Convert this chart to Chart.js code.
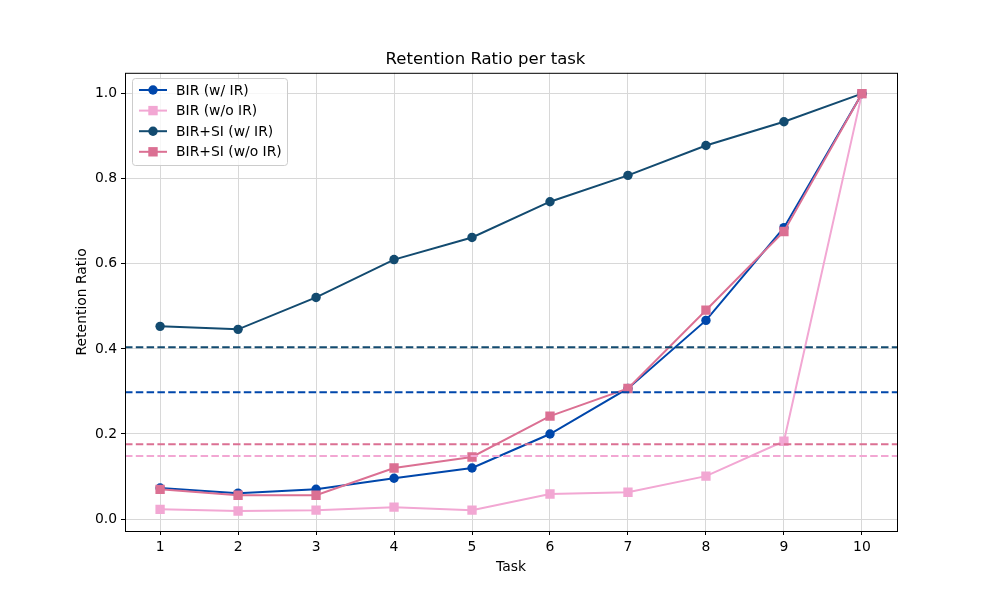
<!DOCTYPE html>
<html>
<head>
<meta charset="utf-8">
<script src="https://cdn.jsdelivr.net/npm/chart.js@4.4.1/dist/chart.umd.min.js"></script>
<style>
  html, body { margin:0; padding:0; background:#fff; }
  #wrap { width:997px; height:598px; position:relative; }
</style>
</head>
<body>
<div id="wrap"><canvas id="chart" width="997" height="598"></canvas></div>
<script>
// ── Data ─────────────────────────────────────────────────────
const tasks = [1,2,3,4,5,6,7,8,9,10];
const birWithIR    = [0.073,0.061,0.070,0.096,0.120,0.200,0.307,0.467,0.685,1.0];
const birNoIR      = [0.023,0.019,0.021,0.028,0.021,0.059,0.063,0.101,0.183,1.0];
const birSiWithIR  = [0.453,0.446,0.521,0.610,0.662,0.746,0.808,0.878,0.934,1.0];
const birSiNoIR    = [0.070,0.056,0.056,0.120,0.146,0.242,0.307,0.491,0.676,1.0];
const seriesNames  = ['BIR (w/ IR)','BIR (w/o IR)','BIR+SI (w/ IR)','BIR+SI (w/o IR)'];
const meanLevels   = [0.298, 0.148, 0.404, 0.176];   // dashed reference lines, same order
const yTicks = [0.0,0.2,0.4,0.6,0.8,1.0];
const xMin = 0.55, xMax = 10.45, yMin = -0.028, yMax = 1.049;

const colors = ['#0047AB','#F2A7D3','#134B70','#DB7093'];
const FONT = 'DejaVu Sans';

const pts = vals => tasks.map((t,i) => ({x:t, y:vals[i]}));
const seriesVals = [birWithIR, birNoIR, birSiWithIR, birSiNoIR];
const styles = ['circle','rect','circle','rect'];

const datasets = seriesVals.map((v,i) => ({
  label: seriesNames[i], data: pts(v),
  borderColor: colors[i], backgroundColor: colors[i],
  borderWidth: 2, pointStyle: styles[i],
  pointRadius: styles[i] === 'rect' ? 6.6 : 4.7, pointHoverRadius: 5,
  pointBorderWidth: 0, tension: 0, order: 10 - i
}));
meanLevels.forEach((lv,i) => datasets.push({
  label: '_mean' + i, data: [{x:xMin,y:lv},{x:xMax,y:lv}],
  borderColor: colors[i], borderWidth: 2, borderDash: [7.5,3.3],
  pointRadius: 0, order: 1
}));

// ── Legend + frame plugin ───────────────────────────────────
const framePlugin = {
  id: 'frame',
  afterDraw(chart) {
    const {ctx, chartArea: a} = chart;
    ctx.save();
    ctx.strokeStyle = '#000'; ctx.lineWidth = 1;
    ctx.strokeRect(a.left + 0.5, a.top + 0.5, a.right - a.left, a.bottom - a.top);
    // legend box
    const bx = 132, by = 78, bw = 155, bh = 87;
    ctx.fillStyle = 'rgba(255,255,255,0.8)';
    ctx.strokeStyle = '#cccccc';
    ctx.beginPath();
    ctx.roundRect(bx + 0.5, by + 0.5, bw, bh, 3);
    ctx.fill(); ctx.stroke();
    ctx.font = '13.9px ' + FONT;
    ctx.textBaseline = 'middle';
    seriesNames.forEach((name,i) => {
      const y = 90 + i * 20.6;
      ctx.strokeStyle = colors[i]; ctx.lineWidth = 2;
      ctx.beginPath(); ctx.moveTo(139, y); ctx.lineTo(167, y); ctx.stroke();
      ctx.fillStyle = colors[i];
      if (styles[i] === 'rect') ctx.fillRect(153 - 4.7, y - 4.7, 9.4, 9.4);
      else { ctx.beginPath(); ctx.arc(153, y, 4.7, 0, Math.PI*2); ctx.fill(); }
      ctx.fillStyle = '#000';
      ctx.fillText(name, 176, y + 1);
    });
    ctx.restore();
  }
};

new Chart(document.getElementById('chart'), {
  type: 'line',
  data: { datasets },
  plugins: [framePlugin],
  options: {
    responsive: false, animation: false,
    layout: { padding: { top: 50, right: 100, left: 74, bottom: 22 } },
    plugins: {
      legend: { display: false },
      tooltip: { enabled: false },
      title: { display: true, text: 'Retention Ratio per task', color: '#000',
               font: { family: FONT, size: 16.5, weight: 'normal' }, padding: { top: 0, bottom: 3 } }
    },
    scales: {
      x: {
        type: 'linear', min: xMin, max: xMax,
        afterBuildTicks: s => { s.ticks = tasks.map(v => ({value:v})); },
        afterFit: s => { s.height = 45; },
        grid: { color: '#d8d8d8', lineWidth: 1, tickLength: 4, tickColor: '#000' },
        border: { display: false },
        ticks: { color: '#000', font: { family: FONT, size: 13.9 }, padding: 4, maxRotation: 0, callback: v => String(v) },
        title: { display: true, text: 'Task', color: '#000', font: { family: FONT, size: 13.9 }, padding: { top: 0, bottom: 0 } }
      },
      y: {
        min: yMin, max: yMax,
        afterBuildTicks: s => { s.ticks = yTicks.map(v => ({value:v})); },
        afterFit: s => { s.width = 51; },
        grid: { color: '#d8d8d8', lineWidth: 1, tickLength: 4, tickColor: '#000' },
        border: { display: false },
        ticks: { color: '#000', font: { family: FONT, size: 13.9 }, padding: 4, callback: v => v.toFixed(1) },
        title: { display: true, text: 'Retention Ratio', color: '#000', font: { family: FONT, size: 13.9 }, padding: { top: 0, bottom: 2 } }
      }
    }
  }
});
</script>
</body>
</html>
